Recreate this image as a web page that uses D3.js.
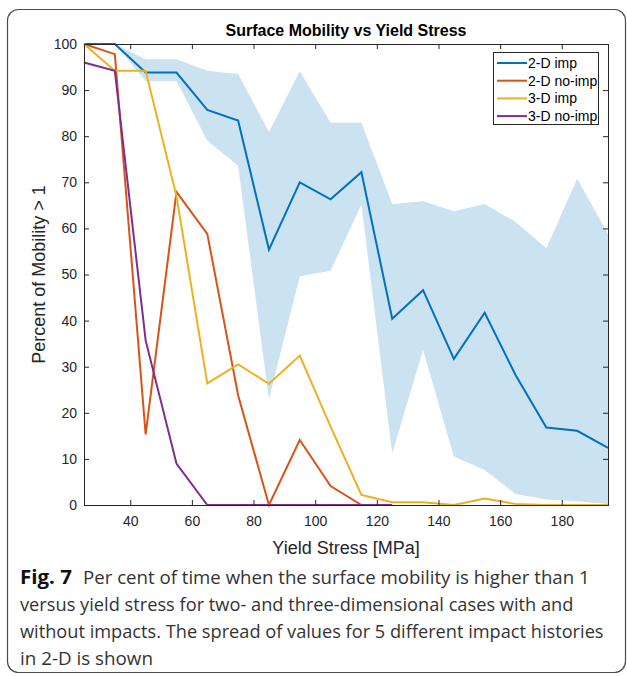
<!DOCTYPE html>
<html>
<head>
<meta charset="utf-8">
<script src="https://cdn.jsdelivr.net/npm/d3@7"></script>
<style>
  html, body { margin: 0; padding: 0; background: #fff; }
  svg { display: block; }
</style>
</head>
<body>
<svg id="chart" width="627" height="676"></svg>
<script>
// Yield stress samples (MPa)
const yieldStress = [25, 35, 45, 55, 65, 75, 85, 95, 105, 115, 125, 135, 145, 155, 165, 175, 185, 195];

// Percent of time with surface mobility > 1
const imp2D   = [100, 100, 93.8, 93.8, 85.7, 83.4, 55.4, 70.0, 66.3, 72.2, 40.4, 46.6, 31.7, 41.7, 28.2, 16.8, 16.1, 12.4];
const imp2DHi = [100, 100, 96.7, 96.7, 94.2, 93.5, 80.9, 94.1, 82.9, 82.9, 65.3, 65.9, 63.7, 65.3, 61.4, 55.7, 70.8, 58.8];
const imp2DLo = [100, 100, 92.0, 92.0, 79.0, 73.6, 23.0, 49.6, 50.8, 65.2, 11.2, 33.6, 10.5, 7.6, 2.4, 1.2, 0.8, 0.2];

const noImp2DX = [25, 35, 45, 55, 65, 75, 85, 95, 105, 115];
const noImp2D  = [100, 97.8, 15.3, 67.9, 58.8, 23.8, 0, 14.1, 4.1, 0];

const imp3D   = [100, 94.2, 94.2, 67.0, 26.4, 30.5, 26.3, 32.4, 17.0, 2.2, 0.6, 0.6, 0, 1.4, 0.2, 0, 0, 0];

const noImp3DX = [25, 35, 45, 55, 65, 75, 85, 95, 105, 115, 125];
const noImp3D  = [96.0, 94.2, 35.7, 9.0, 0, 0, 0, 0, 0, 0, 0];

const seriesNames  = ["2-D imp", "2-D no-imp", "3-D imp", "3-D no-imp"];
const seriesColors = ["#0072BD", "#D95319", "#EDB120", "#7E2F8E"];

const xTicks = [40, 60, 80, 100, 120, 140, 160, 180];
const yTicks = [0, 10, 20, 30, 40, 50, 60, 70, 80, 90, 100];

const captionLead = "Fig. 7";
const captionLines = [
  "Per cent of time when the surface mobility is higher than 1",
  "versus yield stress for two- and three-dimensional cases with and",
  "without impacts. The spread of values for 5 different impact histories",
  "in 2-D is shown"
];

const svg = d3.select("#chart");
const axisFont = "'Liberation Sans', Arial, Helvetica, sans-serif";
const captionFont = "'Open Sans', 'Noto Sans', sans-serif";
const axisColor = "#262626";

// Figure frame
svg.append("rect")
  .attr("x", 7.5).attr("y", 9.5)
  .attr("width", 618).attr("height", 663)
  .attr("rx", 11).attr("ry", 11)
  .attr("fill", "none")
  .attr("stroke", "#4d4d4d")
  .attr("stroke-width", 1.2);

const plot = { left: 84, right: 608, top: 44, bottom: 505 };

const x = d3.scaleLinear().domain([25, 195]).range([plot.left, plot.right]);
const y = d3.scaleLinear().domain([0, 100]).range([plot.bottom, plot.top]);

// Spread band for 2-D with impacts
const band = d3.area()
  .x((d, i) => x(yieldStress[i]))
  .y0((d, i) => y(imp2DLo[i]))
  .y1((d, i) => y(imp2DHi[i]));

svg.append("path")
  .datum(imp2DHi)
  .attr("d", band)
  .attr("fill", "#cbe2f1")
  .attr("stroke", "none");

// Series lines
const line = d3.line().x(d => x(d[0])).y(d => y(d[1]));
const seriesData = [
  d3.zip(yieldStress, imp2D),
  d3.zip(noImp2DX, noImp2D),
  d3.zip(yieldStress, imp3D),
  d3.zip(noImp3DX, noImp3D)
];

seriesData.forEach((pts, i) => {
  svg.append("path")
    .datum(pts)
    .attr("d", line)
    .attr("fill", "none")
    .attr("stroke", seriesColors[i])
    .attr("stroke-width", 2)
    .attr("stroke-linejoin", "miter");
});

// Axes (box with inward ticks)
function styleAxis(g, showLabels) {
  g.selectAll("path.domain").attr("stroke", axisColor).attr("stroke-width", 1);
  g.selectAll(".tick line").attr("stroke", axisColor).attr("stroke-width", 1);
  g.selectAll(".tick text")
    .attr("fill", axisColor)
    .style("font-family", axisFont)
    .style("font-size", "14px");
  if (!showLabels) g.selectAll(".tick text").remove();
}

svg.append("g")
  .attr("transform", `translate(0,${plot.bottom})`)
  .call(d3.axisBottom(x).tickValues(xTicks).tickSizeInner(-5).tickSizeOuter(0).tickPadding(11))
  .call(g => styleAxis(g, true));

svg.append("g")
  .attr("transform", `translate(0,${plot.top})`)
  .call(d3.axisTop(x).tickValues(xTicks).tickSizeInner(-5).tickSizeOuter(0))
  .call(g => styleAxis(g, false));

svg.append("g")
  .attr("transform", `translate(${plot.left},0)`)
  .call(d3.axisLeft(y).tickValues(yTicks).tickSizeInner(-5).tickSizeOuter(0).tickPadding(7))
  .call(g => styleAxis(g, true));

svg.append("g")
  .attr("transform", `translate(${plot.right},0)`)
  .call(d3.axisRight(y).tickValues(yTicks).tickSizeInner(-5).tickSizeOuter(0))
  .call(g => styleAxis(g, false));

svg.selectAll("g .domain").attr("shape-rendering", "crispEdges");

// Title and axis labels
svg.append("text")
  .attr("x", (plot.left + plot.right) / 2).attr("y", 36)
  .attr("text-anchor", "middle")
  .style("font-family", axisFont).style("font-size", "16px").style("font-weight", "bold")
  .attr("fill", "#000")
  .text("Surface Mobility vs Yield Stress");

svg.append("text")
  .attr("x", (plot.left + plot.right) / 2).attr("y", 554)
  .attr("text-anchor", "middle")
  .style("font-family", axisFont).style("font-size", "18px")
  .attr("fill", axisColor)
  .text("Yield Stress [MPa]");

svg.append("text")
  .attr("transform", `translate(45,${(plot.top + plot.bottom) / 2}) rotate(-90)`)
  .attr("text-anchor", "middle")
  .style("font-family", axisFont).style("font-size", "18px")
  .attr("fill", axisColor)
  .text("Percent of Mobility > 1");

// Legend
const legend = svg.append("g").attr("transform", "translate(493,52)");
legend.append("rect")
  .attr("x", 0.5).attr("y", 0.5).attr("width", 105).attr("height", 72)
  .attr("fill", "#fff").attr("stroke", axisColor).attr("stroke-width", 1);

seriesNames.forEach((name, i) => {
  const cy = 11 + i * 17.7;
  legend.append("line")
    .attr("x1", 4).attr("x2", 34).attr("y1", cy).attr("y2", cy)
    .attr("stroke", seriesColors[i]).attr("stroke-width", 2);
  legend.append("text")
    .attr("x", 35).attr("y", cy).attr("dy", "0.35em")
    .style("font-family", axisFont).style("font-size", "14px")
    .attr("fill", "#000")
    .text(name);
});

// Caption: each line is narrowed horizontally to its set width
const capSize = 19;
const capBaselines = [584, 611, 638, 665];
const capWidths = [507, 554, 584, 133];
const capX = [83, 20, 20, 20];

function narrowText(sel, left, baseline, width) {
  const natural = sel.node().getComputedTextLength();
  const k = natural > 0 ? width / natural : 1;
  sel.attr("x", 0).attr("y", 0)
    .attr("transform", `translate(${left},${baseline}) scale(${k},1)`);
}

const lead = svg.append("text")
  .style("font-family", captionFont).style("font-size", capSize + "px").style("font-weight", "bold")
  .attr("fill", "#111")
  .text(captionLead);
narrowText(lead, 20, capBaselines[0], 52);

captionLines.forEach((t, i) => {
  const s = svg.append("text")
    .style("font-family", captionFont).style("font-size", capSize + "px")
    .attr("fill", "#333")
    .text(t);
  narrowText(s, capX[i], capBaselines[i], capWidths[i]);
});
</script>
</body>
</html>
